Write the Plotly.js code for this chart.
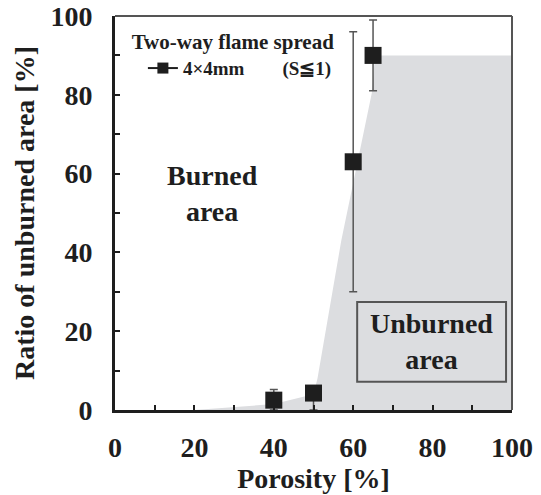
<!DOCTYPE html>
<html><head><meta charset="utf-8">
<script src="https://cdn.plot.ly/plotly-3.0.1.min.js"></script>
<style>body{margin:0;background:#fff}</style>
</head><body><div id="chart" style="width:541px;height:495px"></div>
<script>
// Measured data: porosity [%] vs ratio of unburned area [%]
const porosity = [40, 50, 60, 65];
const unburned = [2.5, 4.3, 63, 90];
const errUpper = [2.7, 1.5, 33, 9];
const errLower = [2.5, 4.3, 33, 9];

// Unburned (shaded) region boundary
const regionX = [20, 40, 50, 51, 57, 64.7, 65.5, 100, 100, 20];
const regionY = [0, 1.5, 4, 8, 43, 80.5, 90, 90, 0, 0];

const xTicks = [0, 20, 40, 60, 80, 100];
const yTicks = [0, 20, 40, 60, 80, 100];

const serif = 'Liberation Serif';
const ink = '#1e1e1e';
const gray = '#dcdde0';

const traces = [
  {x: regionX, y: regionY, type: 'scatter', mode: 'lines', fill: 'toself',
   fillcolor: gray, line: {width: 0}, hoverinfo: 'skip', showlegend: false},
  {x: porosity, y: unburned, type: 'scatter', mode: 'markers', showlegend: false,
   marker: {symbol: 'square', size: 17, color: '#1e1e1e'},
   error_y: {type: 'data', symmetric: false, array: errUpper, arrayminus: errLower,
             color: '#555', thickness: 1.5, width: 4}},
  {x: [null], y: [null], type: 'scatter', mode: 'lines+markers',
   name: '4×4mm\u2003\u2003(S≦1)',
   marker: {symbol: 'square', size: 11, color: '#1e1e1e'},
   line: {color: '#1e1e1e', width: 2}}
];

const layout = {
  width: 541, height: 495,
  margin: {l: 115, r: 29, t: 16, b: 85},
  paper_bgcolor: '#fff', plot_bgcolor: '#fff',
  font: {family: serif, color: ink},
  xaxis: {range: [0, 100], tickvals: xTicks, ticks: 'inside', ticklen: 5, tickwidth: 2,
          tickcolor: ink, showline: true, linecolor: ink, linewidth: 3, showgrid: false,
          zeroline: false, ticklabelstandoff: 10,
          tickfont: {family: serif, size: 28, color: ink, weight: 'bold'},
          minor: {dtick: 10, ticks: 'inside', ticklen: 5, tickwidth: 2, tickcolor: ink, showgrid: false},
          title: {text: 'Porosity [%]', standoff: 2, font: {family: serif, size: 28, color: ink, weight: 'bold'}}},
  yaxis: {range: [0, 100], tickvals: yTicks, ticks: 'inside', ticklen: 5, tickwidth: 2,
          tickcolor: ink, showline: true, linecolor: ink, linewidth: 3, showgrid: false,
          zeroline: false, ticklabelstandoff: 14,
          tickfont: {family: serif, size: 28, color: ink, weight: 'bold'},
          minor: {dtick: 10, ticks: 'inside', ticklen: 5, tickwidth: 2, tickcolor: ink, showgrid: false},
          title: {text: 'Ratio of unburned area [%]', standoff: 8, font: {family: serif, size: 28, color: ink, weight: 'bold'}}},
  showlegend: true,
  legend: {x: 0.035, y: 0.985, xanchor: 'left', yanchor: 'top', bgcolor: 'rgba(0,0,0,0)',
           font: {family: serif, size: 19, color: ink, weight: 'bold'},
           title: {text: 'Two-way flame spread', side: 'top center',
                   font: {family: serif, size: 21, color: ink, weight: 'bold'}},
           indentation: 14, itemwidth: 30, tracegroupgap: 0},
  shapes: [
    {type: 'line', xref: 'paper', yref: 'paper', x0: 0, x1: 1, y0: 1, y1: 1, line: {color: '#555', width: 2}},
    {type: 'line', xref: 'paper', yref: 'paper', x0: 1, x1: 1, y0: 0, y1: 1, line: {color: '#555', width: 2}},
    {type: 'rect', xref: 'x', yref: 'y', x0: 61, x1: 98.5, y0: 7.2, y1: 27.4,
     line: {color: '#555', width: 2}, fillcolor: gray}
  ],
  annotations: [
    {x: 24.5, y: 55, xref: 'x', yref: 'y', showarrow: false, text: 'Burned<br>area',
     font: {family: serif, size: 28, color: ink, weight: 'bold'}, align: 'center'},
    {x: 79.8, y: 17.3, xref: 'x', yref: 'y', showarrow: false, text: 'Unburned<br>area',
     font: {family: serif, size: 28, color: ink, weight: 'bold'}, align: 'center'}
  ]
};

Plotly.newPlot('chart', traces, layout, {displayModeBar: false, staticPlot: true});
</script></body></html>
